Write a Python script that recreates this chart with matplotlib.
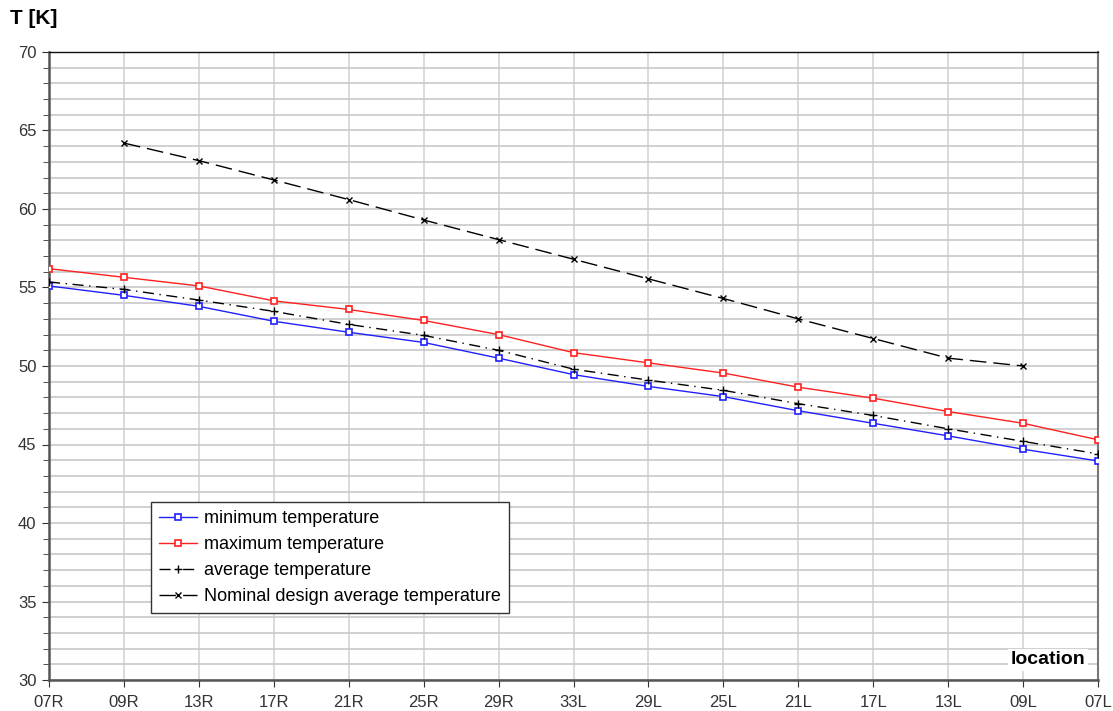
import matplotlib
matplotlib.use("Agg")
import matplotlib.pyplot as plt
from matplotlib.ticker import MultipleLocator

plt.rcParams['font.family'] = ['Liberation Sans', 'DejaVu Sans']

locations = ["07R", "09R", "13R", "17R", "21R", "25R", "29R", "33L",
             "29L", "25L", "21L", "17L", "13L", "09L", "07L"]
t_min = [55.1, 54.5, 53.8, 52.85, 52.15, 51.5, 50.5, 49.45, 48.7, 48.05, 47.15, 46.35, 45.55, 44.7, 43.95]
t_max = [56.2, 55.65, 55.1, 54.15, 53.6, 52.9, 52.0, 50.85, 50.2, 49.55, 48.65, 47.95, 47.1, 46.35, 45.3]
t_avg = [55.35, 54.88, 54.2, 53.48, 52.65, 51.95, 51.0, 49.8, 49.1, 48.45, 47.6, 46.85, 46.0, 45.2, 44.4]
nominal_idx = list(range(1, 14))
t_nominal = [64.2, 63.08, 61.85, 60.6, 59.3, 58.05, 56.8, 55.55, 54.3, 53.0, 51.75, 50.5, 50.0]

fig = plt.figure(figsize=(11.13, 7.11), dpi=100)
ax = fig.add_axes([49/1113, 1-680/711, (1098-49)/1113, (680-52)/711])

x = list(range(len(locations)))
ax.plot(x, t_min, color='#2020ff', lw=1, marker='s', ms=5, mfc='white', mec='#2020ff', mew=1.2,
        label='minimum temperature', zorder=4)
ax.plot(x, t_max, color='#ff2020', lw=1, marker='s', ms=5, mfc='white', mec='#ff2020', mew=1.2,
        label='maximum temperature', zorder=4)
ax.plot(x, t_avg, color='black', lw=1, ls=(0, (8, 4, 1, 4)), marker='+', ms=6, mew=1,
        label='average temperature', zorder=4)
ax.plot(nominal_idx, t_nominal, color='black', lw=1, ls=(0, (12, 5)), marker='x', ms=4, mew=1,
        label='Nominal design average temperature', zorder=4)

ax.set_xlim(0, len(locations) - 1)
ax.set_ylim(30, 70)
ax.set_xticks(x)
ax.set_xticklabels(locations)
ax.yaxis.set_major_locator(MultipleLocator(5))
ax.yaxis.set_minor_locator(MultipleLocator(1))
ax.grid(True, axis='y', which='both', color='#c8c8c8', lw=1.2)
ax.grid(True, axis='x', which='major', color='#d4d4d4', lw=1.2)
ax.set_axisbelow(True)

ax.tick_params(axis='both', which='major', labelsize=12, labelcolor='#333333', length=5,
               color='#333333', direction='out')
ax.tick_params(axis='y', which='minor', length=4, color='#333333')
ax.tick_params(axis='x', pad=6)
ax.tick_params(axis='y', pad=4)

for s in ['left', 'bottom']:
    ax.spines[s].set_color('#555555')
    ax.spines[s].set_linewidth(1.8)
ax.spines['top'].set_color('#111111')
ax.spines['top'].set_linewidth(1)
ax.spines['right'].set_color('#777777')
ax.spines['right'].set_linewidth(1.5)

fig.text(10/1113, 1-18/711, 'T [K]', fontsize=15, fontweight='bold', va='center', ha='left')
fig.text(1085/1113, 1-660/711, 'location', fontsize=14, fontweight='bold',
         ha='right', va='center', bbox=dict(facecolor='white', edgecolor='none', pad=2))

leg = ax.legend(loc='upper left', bbox_to_anchor=((151-49)/1049, (680-502)/628), fontsize=13,
                frameon=True, fancybox=False, edgecolor='#333333', framealpha=1,
                handlelength=2.1, handletextpad=0.4, borderpad=0.45, labelspacing=0.5,
                borderaxespad=0)
leg.get_frame().set_linewidth(1)

fig.savefig('out.png', dpi=100)
